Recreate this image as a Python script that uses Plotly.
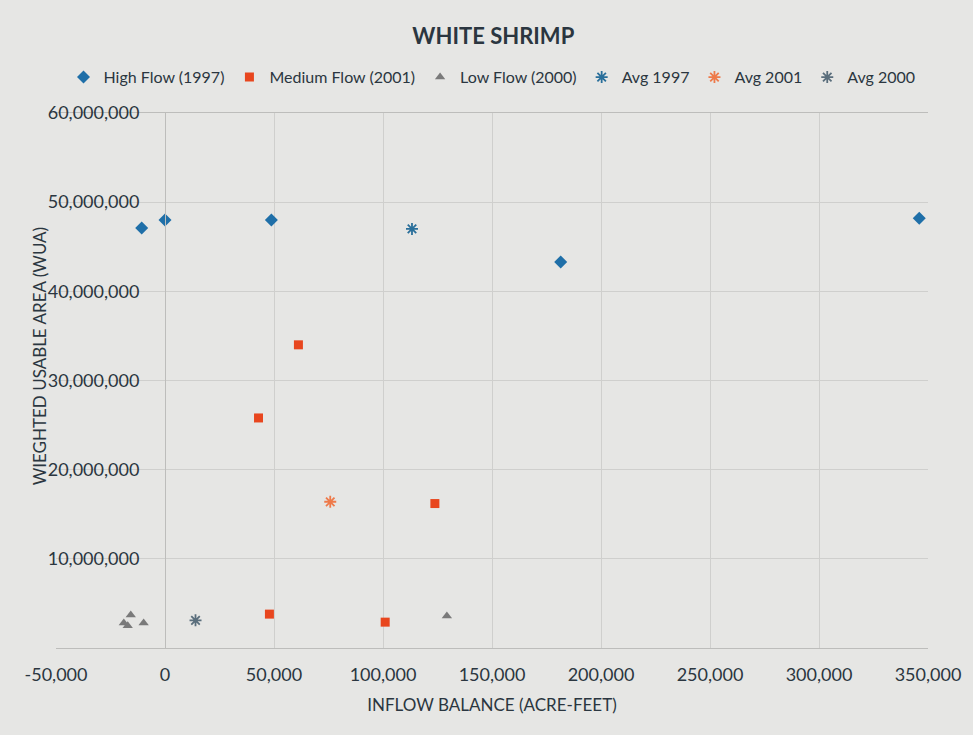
import plotly.graph_objects as go

high_x = [-10700, 0, 48800, 181500, 346000]
high_y = [47100000, 48000000, 48000000, 43300000, 48200000]
med_x = [42900, 61200, 47900, 101000, 123800]
med_y = [25800000, 34000000, 3800000, 2900000, 16200000]
low_x = [-18900, -15700, -17100, -9800, 129300]
low_y = [2800000, 3700000, 2500000, 2800000, 3600000]
avg97 = ([113300], [47000000])
avg01 = ([75800], [16400000])
avg00 = ([14000], [3100000])
x_ticks = [-50000, 0, 50000, 100000, 150000, 200000, 250000, 300000, 350000]
x_labels = ["-50,000", "0", "50,000", "100,000", "150,000", "200,000", "250,000", "300,000", "350,000"]
y_ticks = [10000000, 20000000, 30000000, 40000000, 50000000, 60000000]
y_labels = ["10,000,000", "20,000,000", "30,000,000", "40,000,000", "50,000,000", "60,000,000"]

FONT = "Lato"
TXT = "#2b3640"
fig = go.Figure()
fig.add_trace(go.Scatter(x=high_x, y=high_y, mode="markers", name="High Flow (1997)",
                         marker=dict(symbol="diamond", size=10, color="#1f6fa8")))
fig.add_trace(go.Scatter(x=med_x, y=med_y, mode="markers", name="Medium Flow (2001)",
                         marker=dict(symbol="square", size=9, color="#e8461e")))
fig.add_trace(go.Scatter(x=low_x, y=low_y, mode="markers", name="Low Flow (2000)",
                         marker=dict(symbol="triangle-up", size=9, color="#7a7a7a")))
fig.add_trace(go.Scatter(x=avg97[0], y=avg97[1], mode="markers", name="Avg 1997",
                         marker=dict(symbol="asterisk-open", size=10, color="#2a6f9a",
                                     line=dict(width=1.8, color="#2a6f9a"))))
fig.add_trace(go.Scatter(x=avg01[0], y=avg01[1], mode="markers", name="Avg 2001",
                         marker=dict(symbol="asterisk-open", size=10, color="#ee7a4a",
                                     line=dict(width=1.8, color="#ee7a4a"))))
fig.add_trace(go.Scatter(x=avg00[0], y=avg00[1], mode="markers", name="Avg 2000",
                         marker=dict(symbol="asterisk-open", size=10, color="#5a6e7c",
                                     line=dict(width=1.8, color="#5a6e7c"))))

bg = "#e6e6e4"
fig.update_layout(
    width=973, height=735,
    paper_bgcolor=bg, plot_bgcolor=bg,
    margin=dict(l=56, r=37, t=113, b=87),
    font=dict(family=FONT, size=18, color=TXT),
    title=dict(text="<b>WHITE SHRIMP</b>", x=0.507, xanchor="center", y=0.951, yanchor="middle",
               font=dict(family=FONT, size=22, color=TXT)),
    legend=dict(orientation="h", x=0.5, xanchor="center", y=1.067, yanchor="middle",
                font=dict(family=FONT, size=16, color=TXT), itemwidth=30,
                bgcolor="rgba(0,0,0,0)"),
    showlegend=True,
    xaxis=dict(range=[-50000, 350000], tickvals=x_ticks, ticktext=x_labels,
               showgrid=True, gridcolor="#cfcfcd", gridwidth=1, zeroline=False,
               showline=True, linecolor="#bdbdbb", mirror=True,
               ticklabelstandoff=10,
               title=dict(text="INFLOW BALANCE (ACRE-FEET)", font=dict(family=FONT, size=17, color=TXT),
                          standoff=15)),
    yaxis=dict(range=[0, 60000000], tickvals=y_ticks, ticktext=y_labels,
               showgrid=True, gridcolor="#cfcfcd", gridwidth=1, zeroline=False,
               anchor="free", position=0.125, showline=True, linecolor="#bdbdbb",
               ticklabelstandoff=22, ticks=""),
    annotations=[dict(text="WIEGHTED USABLE AREA (WUA)", x=-0.019, y=0.546, xref="paper", yref="paper",
                      xanchor="center", yanchor="middle", textangle=-90, showarrow=False,
                      font=dict(family=FONT, size=17, color=TXT))],
)
fig.write_html("out.html", config={"displayModeBar": False},
               post_script="document.body.style.margin='0';document.body.style.background='#e6e6e4';")
